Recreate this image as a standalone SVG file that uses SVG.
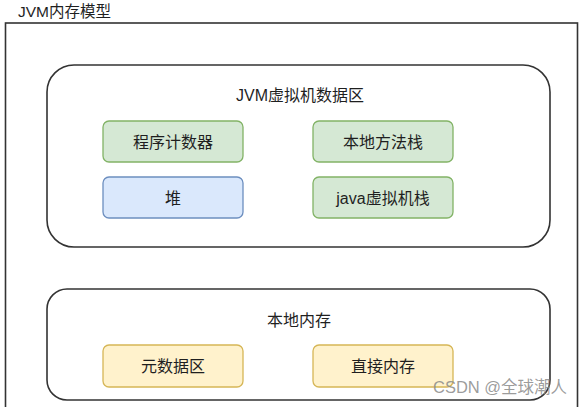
<svg xmlns="http://www.w3.org/2000/svg" width="586" height="407" viewBox="0 0 586 407">
<style>
text{font-family:"Liberation Sans","Noto Sans CJK SC",sans-serif;fill:#1f1f1f;text-anchor:middle;font-size:16px}
.box{stroke-width:1.3}
.g{fill:#d5e8d4;stroke:#82b366}
.b{fill:#dae8fc;stroke:#6c8ebf}
.y{fill:#fff2cc;stroke:#d6b656}
.cont{fill:#fff;stroke:#333;stroke-width:1.6}
</style>
<rect width="586" height="407" fill="#fff"/>
<g id="outer">
<text x="18" y="17" style="text-anchor:start;font-size:15.5px">JVM内存模型</text>
<rect x="5.5" y="23" width="572" height="400" fill="none" stroke="#333" stroke-width="1.6"/>
</g>
<g id="jvm">
<rect class="cont" x="47" y="65" width="503" height="182" rx="27"/>
<text x="300" y="101">JVM虚拟机数据区</text>
</g>
<g id="pc"><rect class="box g" x="103" y="121" width="140" height="41" rx="6"/><text x="173" y="147.5">程序计数器</text></g>
<g id="native-stack"><rect class="box g" x="313" y="121" width="140" height="41" rx="6"/><text x="383" y="147.5">本地方法栈</text></g>
<g id="heap"><rect class="box b" x="103" y="177" width="140" height="41" rx="6"/><text x="173" y="203.5">堆</text></g>
<g id="java-stack"><rect class="box g" x="313" y="177" width="140" height="41" rx="6"/><text x="383" y="203.5">java虚拟机栈</text></g>
<g id="native-mem">
<rect class="cont" x="47" y="289" width="503" height="111" rx="20"/>
<text x="299" y="326">本地内存</text>
</g>
<g id="metaspace"><rect class="box y" x="103" y="345" width="140" height="42" rx="6"/><text x="173" y="372">元数据区</text></g>
<g id="direct"><rect class="box y" x="313" y="345" width="140" height="42" rx="6"/><text x="383" y="372">直接内存</text></g>
<g id="connectors"></g>
<text x="433" y="393" style="text-anchor:start;fill:#8a8a8a;fill-opacity:0.85;font-size:16.5px">CSDN @全球潮人</text>
</svg>
